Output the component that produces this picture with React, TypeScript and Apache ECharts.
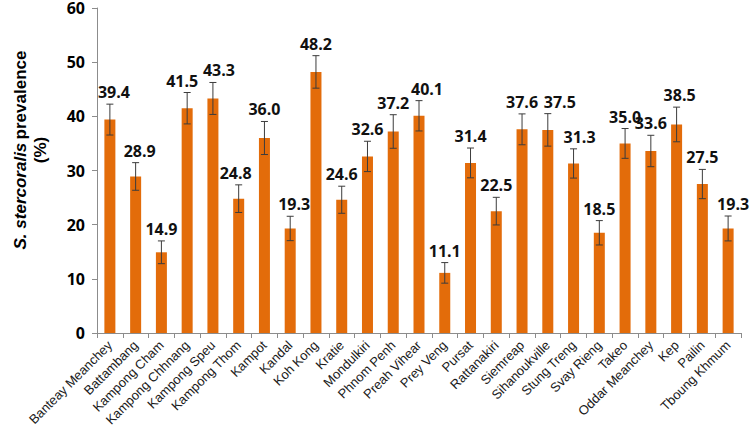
import React, { useEffect, useRef } from "react";
import * as echarts from "echarts";

const categories = [
  "Banteay Meanchey", "Battambang", "Kampong Cham", "Kampong Chhnang", "Kampong Speu",
  "Kampong Thom", "Kampot", "Kandal", "Koh Kong", "Kratie", "Mondulkiri", "Phnom Penh",
  "Preah Vihear", "Prey Veng", "Pursat", "Rattanakiri", "Siemreap", "Sihanoukville",
  "Stung Treng", "Svay Rieng", "Takeo", "Oddar Meanchey", "Kep", "Pailin", "Tboung Khmum",
];
const prevalence = [
  39.4, 28.9, 14.9, 41.5, 43.3, 24.8, 36.0, 19.3, 48.2, 24.6, 32.6, 37.2, 40.1,
  11.1, 31.4, 22.5, 37.6, 37.5, 31.3, 18.5, 35.0, 33.6, 38.5, 27.5, 19.3,
];
const errors = [
  2.85, 2.55, 2.1, 2.9, 2.95, 2.55, 3.05, 2.25, 3.0, 2.5, 2.8, 3.1, 2.8,
  1.9, 2.75, 2.55, 2.85, 3.0, 2.7, 2.25, 2.75, 2.9, 3.2, 2.7, 2.3,
];
const yTicks = [0, 10, 20, 30, 40, 50, 60];

// horizontal nudges of value labels (pixels), as placed in the original figure
const labelNudge: Record<string, number> = {
  "Banteay Meanchey": 4,
  "Battambang": 4,
  "Kampong Chhnang": -5,
  "Kampong Speu": 6,
  "Kampong Thom": -3,
  "Kandal": 4,
  "Preah Vihear": 8,
  "Sihanoukville": 12,
  "Stung Treng": 6,
  "Kep": 3,
  "Tboung Khmum": 5,
};

export default function App() {
  const ref = useRef<HTMLDivElement>(null);
  useEffect(() => {
    if (!ref.current) return;
    const chart = echarts.init(ref.current, null, { renderer: "svg" });
    const errData = categories.map((_, i) => [i, prevalence[i], errors[i]]);
    chart.setOption({
      animation: false,
      backgroundColor: "#ffffff",
      grid: { left: 97, right: 9, top: 7, bottom: 100, containLabel: false },
      graphic: [
        {
          type: "text",
          x: 30,
          y: 150,
          rotation: Math.PI / 2,
          style: {
            text: "{i|S. stercoralis} {b|prevalence}\n{b|(%)}",
            align: "center",
            verticalAlign: "middle",
            lineHeight: 20,
            rich: {
              i: { fontStyle: "italic", fontWeight: "bold", fontSize: 17, fontFamily: "Liberation Sans", fill: "#000", lineHeight: 20 },
              b: { fontWeight: "bold", fontSize: 17, fontFamily: "Liberation Sans", fill: "#000", lineHeight: 20 },
            },
          },
        },
      ],
      xAxis: {
        type: "category",
        data: categories,
        axisLine: { lineStyle: { color: "#8c8c8c", width: 1 } },
        axisTick: { show: true, alignWithLabel: false, length: 5, lineStyle: { color: "#8c8c8c" } },
        axisLabel: {
          rotate: 45,
          interval: 0,
          margin: 10,
          fontSize: 13,
          fontFamily: "Liberation Sans",
          color: "#1a1a1a",
        },
      },
      yAxis: {
        type: "value",
        min: yTicks[0],
        max: yTicks[yTicks.length - 1],
        interval: 10,
        splitLine: { show: false },
        axisLine: { show: true, lineStyle: { color: "#8c8c8c", width: 1 } },
        axisTick: { show: true, length: 5, lineStyle: { color: "#8c8c8c" } },
        axisLabel: {
          margin: 12,
          fontSize: 16,
          fontWeight: "bold",
          fontFamily: "Open Sans",
          color: "#000",
        },
      },
      series: [
        {
          type: "bar",
          data: prevalence,
          barWidth: 11,
          itemStyle: { color: "#E36C0A" },
        },
        {
          type: "custom",
          data: errData,
          encode: { x: 0, y: 1 },
          z: 5,
          renderItem: (params: any, api: any) => {
            const i = api.value(0);
            const v = api.value(1);
            const e = api.value(2);
            const top = api.coord([i, v + e]);
            const bot = api.coord([i, v - e]);
            const hw = 3.5;
            const st = { stroke: "#3c3c3c", lineWidth: 1 };
            const dx = labelNudge[categories[i]] || 0;
            return {
              type: "group",
              children: [
                { type: "line", shape: { x1: top[0], y1: top[1], x2: bot[0], y2: bot[1] }, style: st },
                { type: "line", shape: { x1: top[0] - hw, y1: top[1], x2: top[0] + hw, y2: top[1] }, style: st },
                { type: "line", shape: { x1: bot[0] - hw, y1: bot[1], x2: bot[0] + hw, y2: bot[1] }, style: st },
                {
                  type: "text",
                  x: top[0] + dx,
                  y: top[1] - 4,
                  style: {
                    text: Number(v).toFixed(1),
                    align: "center",
                    verticalAlign: "bottom",
                    fontSize: 16,
                    fontWeight: "bold",
                    fontFamily: "Open Sans",
                    fill: "#111",
                  },
                },
              ],
            };
          },
        },
      ],
    });
    return () => chart.dispose();
  }, []);
  return (
    <div
      ref={ref}
      style={{ position: "absolute", left: 0, top: 0, width: 750, height: 433 }}
    />
  );
}
